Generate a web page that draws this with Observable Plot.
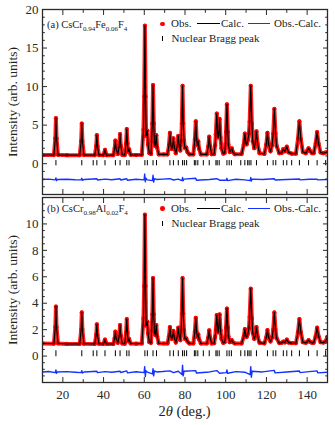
<!DOCTYPE html>
<html><head><meta charset="utf-8">
<script src="https://cdn.jsdelivr.net/npm/d3@7"></script>
<script src="https://cdn.jsdelivr.net/npm/@observablehq/plot@0.6"></script>
<style>
body{margin:0;background:#fff;}
#wrap{position:relative;width:335px;height:425px;overflow:hidden;font-family:'Liberation Serif','Times New Roman',serif;color:#222;}
.svgbox{position:absolute;left:0;}
.t{position:absolute;white-space:nowrap;font-size:11px;line-height:11px;}
.t sub{font-size:7px;line-height:0;vertical-align:-2.5px;}
.ytitle{position:absolute;width:180px;text-align:center;font-size:13.5px;line-height:14px;transform:rotate(-90deg);transform-origin:50% 50%;white-space:nowrap;}
.sym{position:absolute;}
</style></head>
<body><div id="wrap"></div>
<script>
// ---- data ----
const twoTheta = [
10.0, 15.6, 16.3, 16.6, 16.9, 17.6, 22.0, 28.3, 29.0, 29.3,
29.6, 30.3, 35.7, 36.4, 36.7, 37.0, 37.7, 39.9, 40.4, 40.7,
41.0, 41.5, 44.8, 45.45, 45.8, 46.15, 47.0, 47.75, 48.1, 48.45,
49.2, 50.4, 51.05, 51.4, 51.75, 52.0, 52.5, 53.3, 56.0, 58.8,
59.6, 59.95, 60.3, 60.65, 60.9, 61.5, 61.85, 62.5, 63.3, 63.6,
63.95, 64.3, 64.65, 65.0, 65.4, 65.9, 66.3, 67.1, 69.5, 71.4,
72.15, 72.6, 73.05, 73.5, 73.85, 74.3, 74.75, 75.5, 76.25, 76.7,
77.15, 77.7, 78.1, 78.45, 78.8, 79.15, 79.5, 80.0, 80.6, 81.2,
82.2, 84.1, 84.85, 85.3, 85.75, 86.1, 86.5, 86.95, 87.8, 90.7,
91.45, 91.9, 92.35, 93.1, 94.3, 94.8, 95.15, 95.6, 96.05, 96.3,
96.55, 97.0, 97.45, 97.9, 98.8, 99.5, 99.9, 100.15, 100.6, 101.05,
101.3, 102.0, 102.6, 103.0, 103.5, 104.5, 107.8, 108.85, 109.4, 109.95,
110.3, 110.8, 111.4, 111.75, 112.3, 112.85, 113.3, 114.0, 114.55, 115.1,
115.65, 116.6, 119.0, 119.95, 120.5, 121.05, 122.0, 122.8, 123.35, 123.9,
124.45, 125.0, 126.3, 127.5, 128.3, 129.1, 130.0, 130.9, 132.4, 134.5,
135.5, 136.2, 136.9, 137.9, 139.4, 140.0, 140.7, 141.4, 142.4, 143.2,
144.2, 144.9, 145.6, 146.6, 148.0, 149.0, 150.0
];
// (a) CsCr0.94Fe0.06F4 observed / calculated intensity
const obsA = [
1.12, 1.12, 3.3, 5.9, 3.3, 1.15, 1.1, 1.1, 2.95, 5.2,
2.95, 1.12, 1.1, 2.27, 3.7, 2.27, 1.12, 1.1, 1.42, 1.8,
1.42, 1.1, 1.1, 1.96, 3.0, 1.96, 1.25, 2.34, 3.85, 2.34,
1.15, 1.12, 2.63, 4.5, 2.63, 1.55, 1.9, 1.15, 1.12, 1.15,
4.4, 8.7, 17.9, 8.7, 3.6, 4.3, 2.5, 1.35, 1.25, 2.9,
5.2, 10.2, 5.2, 2.7, 2.3, 3.7, 2.1, 1.2, 1.2, 1.2,
2.45, 4.0, 2.45, 1.9, 2.2, 3.3, 2.15, 1.35, 2.3, 3.6,
2.3, 1.7, 3.0, 5.2, 10.1, 5.2, 3.0, 2.0, 2.1, 1.5,
1.2, 1.2, 3.15, 5.5, 3.1, 2.4, 2.9, 1.9, 1.2, 1.2,
2.25, 3.5, 2.25, 1.22, 1.25, 2.4, 3.8, 6.5, 3.9, 3.4,
3.6, 5.8, 3.4, 2.0, 1.3, 1.4, 2.5, 4.1, 7.7, 4.1,
2.5, 1.5, 1.8, 2.0, 1.5, 1.22, 1.25, 2.45, 3.9, 2.6,
2.5, 3.0, 3.9, 5.4, 10.1, 5.2, 2.9, 2.0, 2.7, 4.2,
2.6, 1.35, 1.27, 2.5, 4.0, 2.5, 1.6, 2.4, 3.9, 7.1,
3.9, 2.3, 1.35, 1.4, 1.9, 1.6, 2.2, 1.45, 1.3, 1.3,
3.2, 5.5, 3.2, 1.5, 1.35, 1.65, 2.0, 1.65, 1.35, 1.35,
2.6, 4.1, 2.6, 1.45, 1.35, 1.45, 1.5
];
// (b) CsCr0.98Al0.02F4 observed / calculated intensity
const obsB = [
0.95, 0.94, 2.2, 3.75, 2.2, 0.96, 0.92, 0.92, 2.0, 3.3,
2.0, 0.93, 0.92, 1.6, 2.4, 1.6, 0.93, 0.92, 1.07, 1.25,
1.07, 0.92, 0.92, 1.34, 1.85, 1.34, 1.0, 1.56, 2.35, 1.56,
0.95, 0.93, 1.77, 2.8, 1.77, 1.12, 1.3, 0.95, 0.94, 0.95,
2.85, 5.3, 10.7, 5.3, 2.3, 2.6, 1.7, 1.05, 1.0, 1.9,
3.15, 5.9, 3.15, 1.8, 1.6, 2.35, 1.5, 0.97, 0.95, 0.95,
1.5, 2.2, 1.5, 1.3, 1.45, 1.9, 1.42, 1.02, 1.5, 2.15,
1.5, 1.2, 1.95, 3.2, 5.9, 3.2, 1.95, 1.3, 1.35, 1.1,
0.95, 0.95, 1.85, 2.9, 1.8, 1.45, 1.65, 1.25, 0.96, 0.95,
1.4, 1.95, 1.4, 0.96, 0.97, 1.45, 2.0, 3.1, 2.15, 1.8,
2.1, 3.15, 1.95, 1.3, 1.0, 1.05, 1.5, 2.15, 3.6, 2.15,
1.5, 1.05, 1.12, 1.2, 1.05, 0.95, 0.96, 1.45, 2.05, 1.5,
1.45, 1.65, 2.1, 2.95, 5.1, 2.85, 1.75, 1.3, 1.55, 2.2,
1.5, 1.0, 0.96, 1.42, 1.97, 1.42, 1.1, 1.4, 2.0, 3.3,
2.0, 1.35, 0.98, 1.0, 1.1, 1.03, 1.25, 1.02, 0.98, 0.97,
1.8, 2.8, 1.8, 1.05, 1.0, 1.08, 1.2, 1.08, 1.0, 1.0,
1.5, 2.15, 1.5, 1.05, 1.02, 1.1, 1.45
];
// difference curves (Obs.-Calc., offset)
const diffTheta = [
10, 13, 16.3, 16.6, 16.9, 17.3, 22, 26, 29.0, 29.3,
29.6, 30.5, 36.7, 37.0, 40.7, 44, 48.1, 48.4, 51.4, 51.7,
56, 59.9, 60.2, 60.5, 60.8, 61.5, 64.0, 64.3, 64.6, 65.0,
66, 69, 72.6, 74.3, 76.7, 78.5, 78.8, 79.1, 79.5, 85.3,
85.6, 92, 95.6, 97.0, 100.3, 100.6, 100.9, 105, 109.4, 112.0,
112.3, 112.6, 113, 118, 123.9, 124.2, 130, 136.2, 136.5, 141,
144.9, 145.2, 150
];
const diffA = [
-2.05, -2.0, -2.1, -1.85, -2.2, -2.05, -2.02, -2.08, -2.1, -1.9,
-2.15, -2.05, -1.95, -2.12, -2.0, -2.08, -1.95, -2.12, -1.95, -2.15,
-2.03, -2.1, -1.35, -2.35, -1.9, -2.1, -2.2, -1.5, -2.4, -1.95,
-2.05, -2.0, -1.95, -2.12, -2.0, -2.2, -1.8, -2.2, -2.0, -1.9,
-2.15, -2.05, -1.95, -2.15, -2.15, -1.9, -2.2, -2.03, -2.1, -2.2,
-1.8, -2.25, -2.0, -2.05, -1.95, -2.12, -2.05, -1.98, -2.1, -2.03,
-2.0, -2.1, -2.05
];
const diffB = [
-1.2, -1.17, -1.25, -1.05, -1.3, -1.2, -1.18, -1.22, -1.25, -1.1,
-1.28, -1.2, -1.15, -1.25, -1.18, -1.22, -1.15, -1.24, -1.12, -1.27,
-1.19, -1.25, -0.8, -1.55, -1.1, -1.22, -1.35, -0.95, -1.5, -1.12,
-1.2, -1.17, -1.12, -1.25, -1.15, -1.4, -0.7, -1.5, -1.15, -1.1,
-1.28, -1.2, -1.1, -1.3, -1.25, -1.05, -1.3, -1.18, -1.22, -1.4,
-0.8, -1.6, -1.15, -1.2, -1.08, -1.27, -1.2, -1.13, -1.25, -1.18,
-1.12, -1.27, -1.22
];
// nuclear Bragg peak positions (2θ)
const braggPeaks = [
16.6, 29.3, 34.9, 36.7, 40.7, 45.8, 48.1, 51.4, 52.5, 60.3,
61.5, 64.3, 66.0, 72.6, 74.3, 76.7, 78.8, 79.7, 80.8, 84.6,
85.3, 86.3, 89.0, 91.9, 95.2, 95.8, 96.8, 100.6, 101.7, 102.8,
107.4, 109.4, 110.8, 111.5, 112.4, 115.1, 120.5, 123.3, 124.6, 128.3,
130.0, 132.4, 136.2, 140.7, 144.9, 149.1
];
// tick values
const xLabels = [20, 40, 60, 80, 100, 120, 140];
const xMinor = [30, 50, 70, 90, 110, 130];
const yLabelsA = [0, 5, 10, 15, 20];
const yMinorA = [-3, -2, -1, 1, 2, 3, 4, 6, 7, 8, 9, 11, 12, 13, 14, 16, 17, 18, 19];
const yLabelsB = [0, 2, 4, 6, 8, 10];
const yMinorB = [-1.5, -1, -0.5, 0.5, 1, 1.5, 2.5, 3, 3.5, 4.5, 5, 5.5, 6.5, 7, 7.5, 8.5, 9, 9.5, 10.5, 11, 11.5];

// ---- drawing ----
const blank = () => "";
function makePanel(cfg) {
  const prof = twoTheta.map((t, i) => ({t, v: cfg.obs[i]}));
  const dif = diffTheta.map((t, i) => ({t, v: cfg.diff[i]}));
  const ink = "#2a2a2a";
  const marks = [
    Plot.line(prof, {x: "t", y: "v", stroke: "#ff1e1e", strokeWidth: 4, strokeLinejoin: "round", clip: true}),
    Plot.dot(prof, {x: "t", y: "v", r: 2.1, fill: "#ff0000", clip: true}),
    Plot.line(prof, {x: "t", y: "v", stroke: "#000", strokeWidth: 1.15, clip: true}),
    Plot.line(dif, {x: "t", y: "v", stroke: "#1432ff", strokeWidth: 1.4, clip: true}),
    Plot.ruleX(braggPeaks, {x: d => d, y1: cfg.braggLo, y2: cfg.braggHi, stroke: "#000", strokeWidth: 1}),
    Plot.frame({stroke: ink, strokeWidth: 1.3}),
    Plot.axisY(cfg.yLabels, {anchor: "left", tickSize: 0, tickPadding: 4, label: null, fill: ink}),
    Plot.axisY(cfg.yLabels, {anchor: "left", tickSize: -5, tickFormat: blank, label: null, stroke: ink}),
    Plot.axisY(cfg.yMinor, {anchor: "left", tickSize: -2.8, tickFormat: blank, label: null, stroke: ink}),
    Plot.axisY(cfg.yLabels, {anchor: "right", tickSize: -5, tickFormat: blank, label: null, stroke: ink}),
    Plot.axisY(cfg.yMinor, {anchor: "right", tickSize: -2.8, tickFormat: blank, label: null, stroke: ink}),
    Plot.axisX(xLabels, {anchor: "top", tickSize: -5, tickFormat: blank, label: null, stroke: ink}),
    Plot.axisX(xMinor, {anchor: "top", tickSize: -2.8, tickFormat: blank, label: null, stroke: ink}),
    Plot.axisX(xLabels, {anchor: "bottom", tickSize: -5, tickFormat: blank, label: null, stroke: ink}),
    Plot.axisX(xMinor, {anchor: "bottom", tickSize: -2.8, tickFormat: blank, label: null, stroke: ink})
  ];
  if (cfg.showX) marks.push(Plot.axisX(xLabels, {anchor: "bottom", tickSize: 0, tickPadding: 7, label: null, fill: ink}));
  return Plot.plot({
    width: 335, height: cfg.height,
    marginLeft: 42, marginRight: 8, marginTop: cfg.marginTop, marginBottom: cfg.marginBottom,
    x: {domain: [10, 150]},
    y: {domain: cfg.yDomain},
    style: {fontFamily: "'Liberation Serif', 'Times New Roman', serif", fontSize: "13px", color: ink, background: "transparent", overflow: "visible"},
    marks
  });
}

const wrap = document.getElementById("wrap");
function place(el, top) {
  const box = document.createElement("div");
  box.className = "svgbox";
  box.style.top = top + "px";
  box.appendChild(el);
  wrap.appendChild(box);
}
place(makePanel({obs: obsA, diff: diffA, yDomain: [-4, 20], yLabels: yLabelsA, yMinor: yMinorA,
  height: 195, marginTop: 9, marginBottom: 1, showX: false, braggLo: -0.28, braggHi: 0.4}), 0);
place(makePanel({obs: obsB, diff: diffB, yDomain: [-2, 12], yLabels: yLabelsB, yMinor: yMinorB,
  height: 230, marginTop: 2, marginBottom: 43, showX: true, braggLo: -0.05, braggHi: 0.4}), 195);

// ---- text overlays: panel labels, legends, axis titles ----
function addHTML(html) { wrap.insertAdjacentHTML("beforeend", html); }
function legend(base1, base2) {
  const c1 = base1 - 3.5;
  addHTML(`<div class="sym" style="left:160.2px;top:${c1 - 2.3}px;width:4.6px;height:4.6px;border-radius:50%;background:#ff0000"></div>`);
  addHTML(`<div class="t" style="left:171px;top:${base1 - 9.2}px">Obs.</div>`);
  addHTML(`<div class="sym" style="left:197px;top:${c1 - 0.7}px;width:23px;height:1.4px;background:#000"></div>`);
  addHTML(`<div class="t" style="left:221px;top:${base1 - 9.2}px">Calc.</div>`);
  addHTML(`<div class="sym" style="left:248px;top:${c1 - 0.7}px;width:22px;height:1.4px;background:#1432ff"></div>`);
  addHTML(`<div class="t" style="left:274px;top:${base1 - 9.2}px">Obs.-Calc.</div>`);
  addHTML(`<div class="sym" style="left:162.3px;top:${base2 - 6}px;width:1.2px;height:5px;background:#000"></div>`);
  addHTML(`<div class="t" style="left:171.5px;top:${base2 - 9.2}px">Nuclear Bragg peak</div>`);
}
addHTML(`<div class="t" style="left:47px;top:19.5px;font-size:10.5px;line-height:10.5px">(a) CsCr<sub>0.94</sub>Fe<sub>0.06</sub>F<sub>4</sub></div>`);
legend(27.3, 41.7);
addHTML(`<div class="t" style="left:47px;top:203.5px;font-size:10.5px;line-height:10.5px">(b) CsCr<sub>0.98</sub>Al<sub>0.02</sub>F<sub>4</sub></div>`);
legend(212, 227);
addHTML(`<div class="ytitle" style="left:${12.5 - 90}px;top:${101.5 - 7}px">Intensity (arb. units)</div>`);
addHTML(`<div class="ytitle" style="left:${12.5 - 90}px;top:${289.5 - 7}px">Intensity (arb. units)</div>`);
addHTML(`<div class="t" style="left:134.5px;width:100px;text-align:center;top:403.5px;font-size:14.5px;line-height:14.5px">2<i>θ</i> (deg.)</div>`);
</script>
</body></html>
